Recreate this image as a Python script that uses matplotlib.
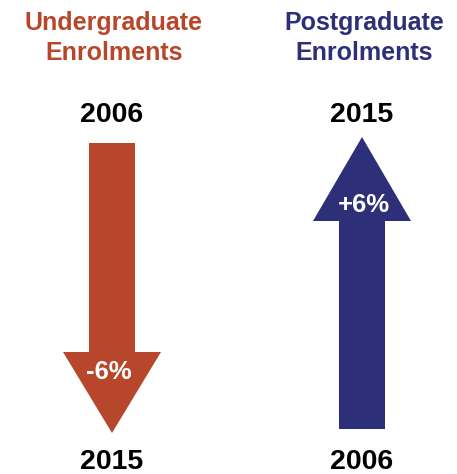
import matplotlib
matplotlib.use("Agg")
import matplotlib.pyplot as plt
from matplotlib.patches import Polygon

# ---- data ----
categories = ["Undergraduate\nEnrolments", "Postgraduate\nEnrolments"]
changes = [-6, 6]
start_years = ["2006", "2006"]
end_years = ["2015", "2015"]
colors = ["#b8462a", "#2d2f78"]

# ---- layout (pixel space) ----
W, H = 457, 474
fig = plt.figure(figsize=(W / 100, H / 100), dpi=100)
ax = fig.add_axes([0, 0, 1, 1])
ax.set_xlim(0, W)
ax.set_ylim(H, 0)
ax.axis("off")

centers = [112, 362]
top_y, bot_y = 140, 433          # extent of arrows
head_len = 84
head_w = 98
shaft_w = 46
top_label_y, bot_label_y = 115, 462
font = "Liberation Sans"

for cx, cat, ch, y0, y1, col in zip(centers, categories, changes, start_years, end_years, colors):
    ax.text(cx + 2, 38, cat, ha="center", va="center", fontsize=18, fontweight="bold",
            color=col, family=font, linespacing=1.35)
    up = ch > 0
    if up:
        tip, base, tail = top_y - 3, top_y - 3 + head_len, bot_y - 4
        top_lab, bot_lab = y1, y0
    else:
        tip, base, tail = bot_y, bot_y - head_len + 3, top_y + 3
        top_lab, bot_lab = y0, y1
    pts = [
        (cx - shaft_w / 2, tail), (cx - shaft_w / 2, base), (cx - head_w / 2, base),
        (cx, tip), (cx + head_w / 2, base), (cx + shaft_w / 2, base), (cx + shaft_w / 2, tail),
    ]
    ax.add_patch(Polygon(pts, closed=True, facecolor=col, edgecolor="none"))
    lab_y = base - 16 if up else base + 20
    ax.text(cx + (2 if up else -3), lab_y, f"{ch:+d}%", ha="center", va="center",
            fontsize=18.5, fontweight="bold", color="white", family=font)
    ax.text(cx, top_label_y, top_lab, ha="center", va="center", fontsize=20.5,
            fontweight="bold", color="black", family=font)
    ax.text(cx, bot_label_y, bot_lab, ha="center", va="center", fontsize=20.5,
            fontweight="bold", color="black", family=font)

fig.savefig("out.png", dpi=100)
